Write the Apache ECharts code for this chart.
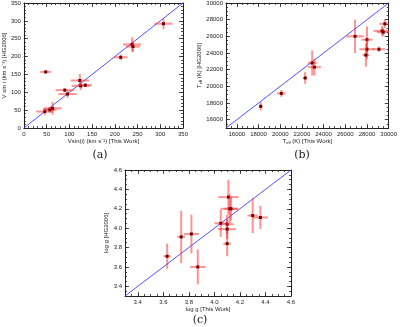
<!DOCTYPE html>
<html><head><meta charset="utf-8">
<script src="https://cdn.jsdelivr.net/npm/echarts@6/dist/echarts.min.js"></script>
<style>html,body{margin:0;padding:0;background:#fff}#c{width:400px;height:327px}</style>
</head><body><div id="c"></div>
<script>
// Panel (a): v sin i
const a_x  = [48, 46, 57, 63, 90, 96, 123, 125, 135, 213, 238, 240, 307];
const a_y  = [157, 46, 51, 55, 106, 95, 133, 118, 120, 198, 234, 228, 292];
const a_xe = [12, 19, 15, 20, 20, 20, 20, 20, 15, 15, 20, 15, 20];
const a_ye = [4, 10, 8, 18, 5, 10, 18, 12, 5, 8, 20, 15, 15];
const a_ticks = [0, 50, 100, 150, 200, 250, 300, 350];
// Panel (b): Teff
const b_x  = [18200, 20100, 22300, 22950, 23150, 26900, 28000, 28000, 27900, 29100, 29400, 29500, 29650];
const b_y  = [17600, 19150, 21000, 22800, 22300, 26000, 25600, 24450, 23750, 24450, 26650, 26500, 27500];
const b_xe = [150, 400, 200, 400, 600, 800, 500, 700, 300, 600, 800, 600, 500];
const b_ye = [500, 400, 700, 1500, 1000, 2000, 1600, 1200, 1400, 300, 600, 500, 500];
const b_ticks = [16000, 18000, 20000, 22000, 24000, 26000, 28000, 30000];
// Panel (c): log g
const c_x  = [3.63, 3.74, 3.82, 3.87, 4.05, 4.10, 4.10, 4.10, 4.11, 4.12, 4.13, 4.30, 4.36];
const c_y  = [3.71, 3.91, 3.94, 3.60, 4.05, 4.04, 3.99, 3.84, 4.32, 4.20, 4.20, 4.13, 4.11];
const c_xe = [0.03, 0.03, 0.06, 0.06, 0.05, 0.05, 0.07, 0.03, 0.08, 0.07, 0.05, 0.04, 0.06];
const c_ye = [0.13, 0.27, 0.20, 0.18, 0.14, 0.10, 0.10, 0.13, 0.18, 0.15, 0.12, 0.18, 0.12];
const c_ticks = [3.4, 3.6, 3.8, 4.0, 4.2, 4.4, 4.6];

const FONT = 'Liberation Sans';
const INK = '#222';
const nameStyle = {fontSize: 6, color: INK, fontFamily: FONT,
  rich: {n: {fontSize: 6, color: INK, fontFamily: FONT}, s: {fontSize: 4, color: INK, fontFamily: FONT, padding: [3,0,0,0]}}};

const xAxes = [], yAxes = [];
function addAxes(list, grid, dim, min, max, majors, minorStep, name, nameGap, fmt) {
  const base = {gridIndex: grid, type: 'value', min: min, max: max, splitLine: {show: false}};
  const pMain = dim === 'x' ? 'bottom' : 'left';
  const pMir = dim === 'x' ? 'top' : 'right';
  const mainIdx = list.length;
  list.push(Object.assign({}, base, {position: pMain, interval: minorStep, name: name, nameLocation: 'middle', nameGap: nameGap, nameTextStyle: nameStyle,
    axisLine: {show: true, onZero: false, lineStyle: {color: INK, width: 1}},
    axisTick: {show: true, inside: true, length: 2, lineStyle: {color: INK, width: 0.8}},
    axisLabel: {show: true, customValues: majors, fontSize: 6, margin: 3, color: INK, fontFamily: FONT, formatter: fmt}}));
  list.push(Object.assign({}, base, {position: pMain,
    axisLine: {show: false, onZero: false},
    axisTick: {show: true, inside: true, length: 4, customValues: majors, lineStyle: {color: INK, width: 0.8}},
    axisLabel: {show: false}}));
  list.push(Object.assign({}, base, {position: pMir, interval: minorStep,
    axisLine: {show: true, onZero: false, lineStyle: {color: INK, width: 1}},
    axisTick: {show: true, inside: true, length: 2, lineStyle: {color: INK, width: 0.8}},
    axisLabel: {show: false}}));
  list.push(Object.assign({}, base, {position: pMir,
    axisLine: {show: false, onZero: false},
    axisTick: {show: true, inside: true, length: 4, customValues: majors, lineStyle: {color: INK, width: 0.8}},
    axisLabel: {show: false}}));
  return mainIdx;
}

const grids = [
  {left: 20, top: 2, width: 163, height: 126},
  {left: 226, top: 2, width: 168, height: 126},
  {left: 125, top: 170, width: 166, height: 126}
];

const intFmt = v => String(Math.round(v));
const decFmt = v => v.toFixed(1);
const ax = [
  addAxes(xAxes, 0, 'x', 0, 350, a_ticks, 10, 'Vsin(i) (km s\u207B\u00B9) [This Work]', 10, intFmt),
  addAxes(xAxes, 1, 'x', 15000, 30000, b_ticks, 500, '{n|T}{s|eff}{n| (K) [This Work]}', 10, intFmt),
  addAxes(xAxes, 2, 'x', 3.3, 4.6, c_ticks, 0.05, 'log g [This Work]', 10, decFmt)
];
const ay = [
  addAxes(yAxes, 0, 'y', 0, 350, a_ticks, 10, 'V sin i (km s\u207B\u00B9) [HG2006]', 14, intFmt),
  addAxes(yAxes, 1, 'y', 15000, 30000, b_ticks, 500, '{n|T}{s|eff}{n| (K) [HG2006]}', 20, intFmt),
  addAxes(yAxes, 2, 'y', 3.3, 4.6, c_ticks, 0.05, 'log g [HG2006]', 13, decFmt)
];

function pts(xs, ys, xe, ye) { return xs.map((v, i) => [v, ys[i], xe[i], ye[i]]); }

function renderItem(params, api) {
  const x = api.value(0), y = api.value(1), ex = api.value(2), ey = api.value(3);
  const c = api.coord([x, y]);
  const l = api.coord([x - ex, y]), r = api.coord([x + ex, y]);
  const t = api.coord([x, y + ey]), b = api.coord([x, y - ey]);
  const bar = {stroke: 'rgba(255,40,40,0.5)', lineWidth: 2};
  return {type: 'group', children: [
    {type: 'line', shape: {x1: l[0], y1: l[1], x2: r[0], y2: r[1]}, style: bar},
    {type: 'line', shape: {x1: t[0], y1: t[1], x2: b[0], y2: b[1]}, style: bar},
    {type: 'rect', shape: {x: c[0] - 1.5, y: c[1] - 1.5, width: 3, height: 3}, style: {fill: '#6a0000'}}
  ]};
}

const sets = [
  {d: pts(a_x, a_y, a_xe, a_ye), lo: 0, hi: 350},
  {d: pts(b_x, b_y, b_xe, b_ye), lo: 15000, hi: 30000},
  {d: pts(c_x, c_y, c_xe, c_ye), lo: 3.3, hi: 4.6}
];
const series = [];
sets.forEach((s, i) => {
  series.push({type: 'line', xAxisIndex: ax[i], yAxisIndex: ay[i], data: [[s.lo, s.lo], [s.hi, s.hi]],
    symbol: 'none', silent: true, lineStyle: {color: 'rgba(50,50,255,0.85)', width: 1}, z: 1});
  series.push({type: 'custom', xAxisIndex: ax[i], yAxisIndex: ay[i], data: s.d, renderItem: renderItem,
    encode: {x: 0, y: 1}, clip: true, z: 2});
});

const capStyle = {fontSize: 11, fontFamily: 'DejaVu Serif', fill: INK, textAlign: 'center', textVerticalAlign: 'middle'};
const chart = echarts.init(document.getElementById('c'), null, {renderer: 'canvas'});
chart.setOption({
  animation: false,
  backgroundColor: '#fff',
  grid: grids,
  xAxis: xAxes,
  yAxis: yAxes,
  series: series,
  graphic: [
    {type: 'text', x: 100, y: 155, style: Object.assign({text: '(a)'}, capStyle)},
    {type: 'text', x: 302, y: 155, style: Object.assign({text: '(b)'}, capStyle)},
    {type: 'text', x: 200, y: 320, style: Object.assign({text: '(c)'}, capStyle)}
  ]
});
</script></body></html>
